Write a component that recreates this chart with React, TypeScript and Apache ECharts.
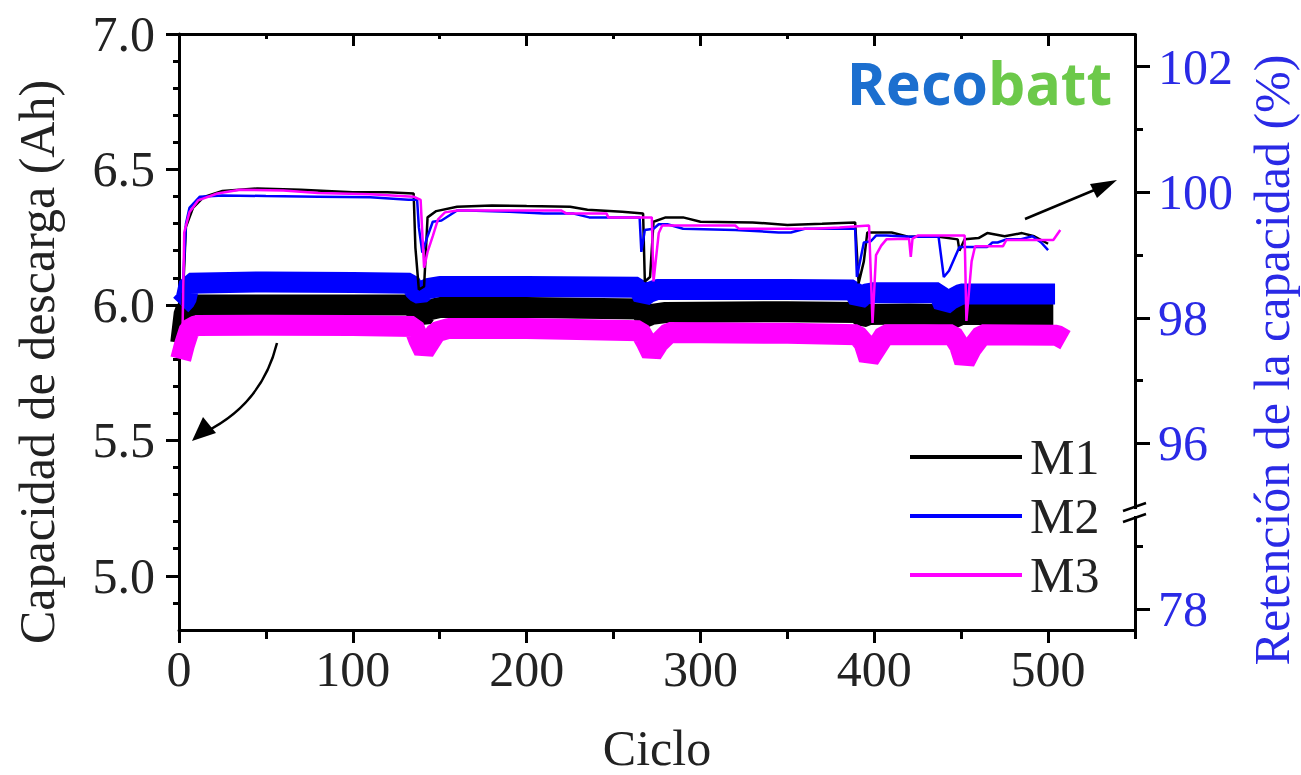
import React, { useEffect, useRef } from 'react';
import * as echarts from 'echarts';

const FONT = "'Liberation Serif', 'Times New Roman', serif";

// Axis ticks
const cycleTicksMajor = [0, 100, 200, 300, 400, 500];
const cycleTicksMinor = [50, 150, 250, 350, 450, 550];
const capacityTicksMajor = [5.0, 5.5, 6.0, 6.5, 7.0];
const capacityTicksMinor = [4.9, 5.1, 5.2, 5.3, 5.4, 5.6, 5.7, 5.8, 5.9, 6.1, 6.2, 6.3, 6.4, 6.6, 6.7, 6.8, 6.9];
const retentionTicksMajor = [78, 96, 98, 100, 102];
const retentionTicksMinor = [79, 97, 99, 101];

const seriesNames = ['M1', 'M2', 'M3'];
const seriesColors = ['#000000', '#0000ff', '#ff00ff'];

// Discharge capacity (Ah) vs cycle, left axis
const m1Capacity: [number, number][] = [
  [1, 5.86], [3, 5.97], [6, 6.0], [50, 6.0], [100, 6.0], [134, 6.0], [137, 5.97], [140, 5.95], [143, 5.98],
  [150, 5.99], [200, 5.99], [265, 5.985], [268, 5.955], [272, 5.965], [280, 5.972], [350, 5.975], [390, 5.972],
  [393, 5.955], [397, 5.965], [420, 5.966], [438, 5.965], [441, 5.945], [445, 5.95], [450, 5.965], [503, 5.965],
];
const m2Capacity: [number, number][] = [
  [1, 6.0], [4, 6.02], [6, 6.08], [50, 6.085], [100, 6.083], [133, 6.08], [136, 6.05], [139, 6.04], [143, 6.06],
  [150, 6.068], [200, 6.068], [264, 6.065], [267, 6.03], [270, 6.045], [275, 6.057], [350, 6.057], [388, 6.055],
  [391, 6.02], [395, 6.04], [400, 6.045], [437, 6.045], [440, 6.0], [444, 6.02], [450, 6.04], [504, 6.04],
];
const m3Capacity: [number, number][] = [
  [1, 5.8], [3, 5.85], [6, 5.91], [10, 5.924], [50, 5.925], [100, 5.924], [135, 5.92], [138, 5.87], [141, 5.83],
  [144, 5.86], [148, 5.9], [155, 5.913], [200, 5.913], [265, 5.905], [269, 5.86], [272, 5.82], [276, 5.86],
  [282, 5.898], [350, 5.895], [390, 5.89], [394, 5.86], [397, 5.8], [401, 5.84], [406, 5.89], [445, 5.89],
  [449, 5.85], [452, 5.79], [456, 5.84], [462, 5.89], [505, 5.888], [510, 5.87],
];

// Capacity retention (%) vs cycle, right axis
const m1Retention: [number, number][] = [
  [2, 98.2], [4, 99.45], [8, 99.75], [14, 99.92], [25, 100.02], [45, 100.06], [70, 100.04], [100, 100.0],
  [120, 100.0], [135, 99.98], [136, 99.12], [138, 98.45], [141, 98.5], [143, 99.6], [148, 99.7], [160, 99.77],
  [180, 99.79], [200, 99.78], [225, 99.77], [235, 99.72], [255, 99.69], [267, 99.66], [268, 98.58], [271, 98.65],
  [273, 99.53], [280, 99.6], [290, 99.6], [300, 99.53], [330, 99.52], [350, 99.48], [370, 99.5], [389, 99.52],
  [391, 98.55], [394, 98.9], [396, 99.36], [410, 99.36], [420, 99.29], [435, 99.3], [448, 99.25], [449, 99.07],
  [452, 99.25], [460, 99.27], [465, 99.35], [475, 99.3], [485, 99.35], [492, 99.3], [500, 99.18],
];
const m2Retention: [number, number][] = [
  [2, 98.4], [4, 99.5], [6, 99.75], [12, 99.93], [25, 99.95], [50, 99.94], [80, 99.93], [110, 99.92],
  [132, 99.88], [137, 99.88], [138, 99.44], [140, 99.04], [143, 99.3], [146, 99.53], [151, 99.55], [160, 99.71],
  [166, 99.71], [190, 99.69], [210, 99.66], [227, 99.66], [236, 99.6], [246, 99.6], [265, 99.6], [266, 99.05],
  [268, 99.4], [273, 99.42], [276, 99.49], [281, 99.49], [290, 99.42], [320, 99.4], [345, 99.36], [352, 99.36],
  [360, 99.42], [389, 99.42], [390, 98.65], [394, 99.2], [398, 99.22], [401, 99.31], [407, 99.31], [420, 99.29],
  [437, 99.29], [440, 98.65], [443, 98.75], [449, 99.13], [465, 99.13], [468, 99.2], [471, 99.2], [476, 99.25],
  [484, 99.25], [491, 99.3], [496, 99.2], [500, 99.08],
];
const m3Retention: [number, number][] = [
  [2, 97.75], [3, 99.36], [6, 99.68], [11, 99.87], [22, 99.98], [35, 100.04], [60, 100.03], [80, 99.99],
  [110, 99.97], [135, 99.93], [139, 99.88], [141, 98.8], [143, 99.05], [146, 99.3], [149, 99.57], [153, 99.68],
  [160, 99.71], [220, 99.71], [223, 99.66], [246, 99.66], [247, 99.6], [272, 99.6], [273, 98.58], [276, 99.35],
  [278, 99.47], [320, 99.47], [322, 99.42], [340, 99.42], [365, 99.42], [380, 99.44], [397, 99.47], [399, 97.92],
  [401, 99.0], [404, 99.15], [407, 99.25], [420, 99.26], [421, 98.97], [422, 99.26], [425, 99.31], [452, 99.31],
  [453, 97.95], [456, 98.9], [458, 99.14], [474, 99.14], [476, 99.24], [503, 99.24], [507, 99.4],
];

const capacityData = [m1Capacity, m2Capacity, m3Capacity];
const retentionData = [m1Retention, m2Retention, m3Retention];

const TEXT = '#222222';
const BLUE_TEXT = '#2a2ae6';

const retentionBreaks = [{ start: 79.59, end: 94.95, gap: 0 }];

export default function App() {
  const ref = useRef<HTMLDivElement>(null);
  useEffect(() => {
    if (!ref.current) return;
    const chart = echarts.init(ref.current, null, { renderer: 'svg' });
    const axisLine = { show: true, onZero: false, lineStyle: { color: '#000', width: 3 } };
    const noLine = { show: false, onZero: false };
    const option: any = {
      animation: false,
      backgroundColor: '#fff',
      grid: { left: 179, right: 166, top: 34, bottom: 145, containLabel: false, outerBoundsMode: 'none' },
      legend: {
        orient: 'vertical',
        left: 910,
        top: 432,
        padding: 0,
        icon: 'rect',
        itemWidth: 112,
        itemHeight: 4,
        itemGap: 9,
        selectedMode: false,
        data: seriesNames,
        textStyle: { fontSize: 50, fontFamily: FONT, color: TEXT, padding: [0, 0, 0, 3] },
      },
      xAxis: [
        {
          type: 'value', position: 'bottom', min: 0, max: 550,
          axisLine,
          axisTick: { show: true, inside: false, length: 13, lineStyle: { width: 3, color: '#000' }, customValues: cycleTicksMajor },
          axisLabel: { show: true, customValues: cycleTicksMajor, margin: 14, fontSize: 50, fontFamily: FONT, color: TEXT },
          splitLine: { show: false },
          name: 'Ciclo', nameLocation: 'middle', nameGap: 93,
          nameTextStyle: { fontSize: 50, fontFamily: FONT, color: TEXT },
        },
        {
          type: 'value', position: 'bottom', min: 0, max: 550,
          axisLine: noLine,
          axisTick: { show: true, inside: false, length: 9, lineStyle: { width: 3, color: '#000' }, customValues: cycleTicksMinor },
          axisLabel: { show: false, customValues: cycleTicksMinor },
          splitLine: { show: false },
        },
        {
          type: 'value', position: 'top', min: 0, max: 550,
          axisLine,
          axisTick: { show: true, inside: true, length: 12, lineStyle: { width: 3, color: '#000' }, customValues: cycleTicksMajor },
          axisLabel: { show: false, customValues: cycleTicksMajor },
          splitLine: { show: false },
        },
        {
          type: 'value', position: 'top', min: 0, max: 550,
          axisLine: noLine,
          axisTick: { show: true, inside: true, length: 5, lineStyle: { width: 3, color: '#000' }, customValues: cycleTicksMinor },
          axisLabel: { show: false, customValues: cycleTicksMinor },
          splitLine: { show: false },
        },
      ],
      yAxis: [
        {
          type: 'value', position: 'left', min: 4.8, max: 7.0,
          axisLine,
          axisTick: { show: true, inside: false, length: 13, lineStyle: { width: 3, color: '#000' }, customValues: capacityTicksMajor },
          axisLabel: {
            show: true, customValues: capacityTicksMajor, margin: 24, fontSize: 50, fontFamily: FONT, color: TEXT,
            formatter: (v: number) => v.toFixed(1),
          },
          splitLine: { show: false },
        },
        {
          type: 'value', position: 'left', min: 4.8, max: 7.0,
          axisLine: noLine,
          axisTick: { show: true, inside: false, length: 6, lineStyle: { width: 3, color: '#000' }, customValues: capacityTicksMinor },
          axisLabel: { show: false, customValues: capacityTicksMinor },
          splitLine: { show: false },
        },
        {
          type: 'value', position: 'right', min: 77.67, max: 102.52,
          breaks: retentionBreaks,
          breakArea: { show: false },
          axisLine,
          axisTick: { show: true, inside: false, length: 15, lineStyle: { width: 3, color: '#000' }, customValues: retentionTicksMajor },
          axisLabel: {
            show: true, customValues: retentionTicksMajor, margin: 23, fontSize: 50, fontFamily: FONT, color: BLUE_TEXT,
            formatter: (v: number) => String(Math.round(v)),
          },
          splitLine: { show: false },
        },
        {
          type: 'value', position: 'right', min: 77.67, max: 102.52,
          breaks: retentionBreaks,
          breakArea: { show: false },
          axisLine: noLine,
          axisTick: { show: true, inside: false, length: 8, lineStyle: { width: 3, color: '#000' }, customValues: retentionTicksMinor },
          axisLabel: { show: false, customValues: retentionTicksMinor },
          splitLine: { show: false },
        },
      ],
      series: [
        ...capacityData.map((d, i) => ({
          name: seriesNames[i] + ' capacidad',
          type: 'line',
          xAxisIndex: 0,
          yAxisIndex: 0,
          data: d,
          symbol: 'none',
          silent: true,
          z: 2,
          lineStyle: { width: 21, color: seriesColors[i] },
          itemStyle: { color: seriesColors[i] },
        })),
        ...retentionData.map((d, i) => ({
          name: seriesNames[i],
          type: 'line',
          xAxisIndex: 0,
          yAxisIndex: 2,
          data: d,
          symbol: 'none',
          silent: true,
          z: 3,
          lineStyle: { width: 2.5, color: seriesColors[i] },
          itemStyle: { color: seriesColors[i] },
        })),
      ],
      graphic: [
        {
          type: 'text', x: 37, y: 362, rotation: Math.PI / 2,
          style: { text: 'Capacidad de descarga (Ah)', fontSize: 50, fontFamily: FONT, fill: TEXT, align: 'center', verticalAlign: 'middle' },
        },
        {
          type: 'text', x: 1272, y: 360, rotation: Math.PI / 2,
          style: { text: 'Retención de la capacidad (%)', fontSize: 50, fontFamily: FONT, fill: BLUE_TEXT, align: 'center', verticalAlign: 'middle' },
        },
        {
          type: 'text', x: 847, y: 82, z: 10,
          style: {
            text: '{a|Reco}{b|batt}',
            align: 'left', verticalAlign: 'middle',
            rich: {
              a: { fill: '#1c6fcf', fontSize: 59, fontWeight: 'bold', fontFamily: "'Noto Sans', sans-serif" },
              b: { fill: '#6cc94a', fontSize: 59, fontWeight: 'bold', fontFamily: "'Noto Sans', sans-serif" },
            },
          },
        },
        {
          type: 'bezierCurve', z: 10,
          shape: { x1: 277, y1: 343, cpx1: 262, cpy1: 404, x2: 205, y2: 432 },
          style: { stroke: '#000', lineWidth: 2.5, fill: 'none' },
        },
        {
          type: 'polygon', z: 10,
          shape: { points: [[192, 441], [203, 417], [216, 433]] },
          style: { fill: '#000' },
        },
        {
          type: 'line', z: 10,
          shape: { x1: 1025, y1: 219, x2: 1104, y2: 186 },
          style: { stroke: '#000', lineWidth: 2.5 },
        },
        {
          type: 'polygon', z: 10,
          shape: { points: [[1117, 180], [1090, 184], [1097, 198]] },
          style: { fill: '#000' },
        },
        {
          type: 'rect', z: 20,
          shape: { x: 1131, y: 509, width: 8, height: 7 },
          style: { fill: '#fff' },
        },
        {
          type: 'line', z: 21,
          shape: { x1: 1123, y1: 511, x2: 1146, y2: 503 },
          style: { stroke: '#000', lineWidth: 2.5 },
        },
        {
          type: 'line', z: 21,
          shape: { x1: 1123, y1: 522, x2: 1146, y2: 514 },
          style: { stroke: '#000', lineWidth: 2.5 },
        },
      ],
    };
    chart.setOption(option);
    return () => chart.dispose();
  }, []);
  return (
    <div
      ref={ref}
      style={{ position: 'fixed', left: 0, top: 0, width: 1301, height: 775, background: '#fff' }}
    />
  );
}
